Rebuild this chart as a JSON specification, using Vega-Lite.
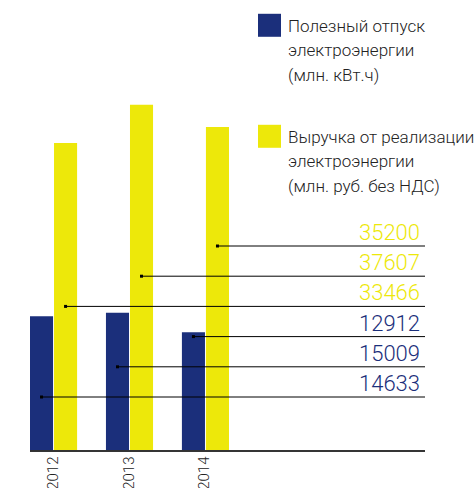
{
  "$schema": "https://vega.github.io/schema/vega-lite/v6.json",
  "width": 395,
  "height": 451,
  "autosize": {"type": "none"},
  "padding": {"left": 30, "top": 0, "right": 51, "bottom": 37},
  "background": "white",
  "config": {"view": {"stroke": null}, "font": "Roboto"},
  "data": {
    "values": [
      {"year": "2012", "series": "Полезный отпуск\nэлектроэнергии\n(млн. кВт.ч)", "value": 14633},
      {"year": "2013", "series": "Полезный отпуск\nэлектроэнергии\n(млн. кВт.ч)", "value": 15009},
      {"year": "2014", "series": "Полезный отпуск\nэлектроэнергии\n(млн. кВт.ч)", "value": 12912},
      {"year": "2012", "series": "Выручка от реализации\nэлектроэнергии\n(млн. руб. без НДС)", "value": 33466},
      {"year": "2013", "series": "Выручка от реализации\nэлектроэнергии\n(млн. руб. без НДС)", "value": 37607},
      {"year": "2014", "series": "Выручка от реализации\nэлектроэнергии\n(млн. руб. без НДС)", "value": 35200}
    ]
  },
  "layer": [
    {
      "encoding": {
        "y": {"field": "value", "type": "quantitative", "scale": {"domain": [0, 49000]}, "axis": null}
      },
      "layer": [
        {
          "mark": {"type": "bar"},
          "encoding": {
            "x": {
              "field": "year", "type": "nominal",
              "scale": {"paddingInner": 0.38, "paddingOuter": 0, "range": [0, 199]},
              "axis": {
                "title": null, "labelAngle": -90, "ticks": false, "tickSize": 0,
                "domain": false,
                "labelFontSize": 15, "labelFont": "Roboto", "labelFontWeight": 300,
                "labelColor": "#222222", "labelPadding": 5, "labelOffset": -1
              }
            },
            "xOffset": {
              "field": "series", "type": "nominal",
              "sort": ["Полезный отпуск\nэлектроэнергии\n(млн. кВт.ч)", "Выручка от реализации\nэлектроэнергии\n(млн. руб. без НДС)"],
              "scale": {"paddingInner": 0.04, "paddingOuter": 0}
            },
            "color": {
              "field": "series", "type": "nominal",
              "sort": ["Полезный отпуск\nэлектроэнергии\n(млн. кВт.ч)", "Выручка от реализации\nэлектроэнергии\n(млн. руб. без НДС)"],
              "scale": {"range": ["#1B2F7B", "#EDE80A"]},
              "legend": {
                "orient": "none", "legendX": 228, "legendY": 20, "title": null,
                "symbolType": "M-1,-1.54H1V0.46H-1Z", "symbolSize": 529,
                "symbolStrokeWidth": 0,
                "labelFontSize": 17, "labelFont": "Roboto", "labelFontWeight": 300,
                "labelColor": "#222222", "labelLimit": 0, "labelOffset": 7,
                "labelBaseline": "alphabetic",
                "labelExpr": "split(datum.label, '\\n')",
                "rowPadding": 40,
                "encode": {"labels": {"update": {"lineHeight": {"value": 24.5}}}}
              }
            }
          }
        },
        {
          "mark": {"type": "rule", "color": "#333333", "strokeWidth": 1},
          "encoding": {"y": {"datum": 0}}
        }
      ]
    },
    {
      "encoding": {
        "y": {
          "field": "value", "type": "ordinal",
          "scale": {"type": "point", "domain": [35200, 37607, 33466, 12912, 15009, 14633], "padding": 0, "range": [246, 397]},
          "axis": null
        }
      },
      "layer": [
        {
          "mark": {"type": "rule", "color": "black", "strokeWidth": 1},
          "encoding": {
            "x": {"field": "year", "type": "nominal"},
            "xOffset": {
              "field": "series", "type": "nominal",
              "sort": ["Полезный отпуск\nэлектроэнергии\n(млн. кВт.ч)", "Выручка от реализации\nэлектроэнергии\n(млн. руб. без НДС)"]
            },
            "x2": {"value": "width"}
          }
        },
        {
          "mark": {"type": "square", "size": 9, "color": "black", "filled": true, "opacity": 1},
          "encoding": {
            "x": {"field": "year", "type": "nominal"},
            "xOffset": {
              "field": "series", "type": "nominal",
              "sort": ["Полезный отпуск\nэлектроэнергии\n(млн. кВт.ч)", "Выручка от реализации\nэлектроэнергии\n(млн. руб. без НДС)"]
            }
          }
        },
        {
          "mark": {"type": "text", "align": "right", "baseline": "alphabetic", "dy": -6, "dx": -5, "fontSize": 22, "fontWeight": 300, "font": "Roboto"},
          "encoding": {
            "x": {"value": "width"},
            "text": {"field": "value", "type": "quantitative", "format": "d"},
            "color": {
              "field": "series", "type": "nominal",
              "sort": ["Полезный отпуск\nэлектроэнергии\n(млн. кВт.ч)", "Выручка от реализации\nэлектроэнергии\n(млн. руб. без НДС)"]
            }
          }
        }
      ]
    }
  ],
  "resolve": {"scale": {"y": "independent"}}
}
